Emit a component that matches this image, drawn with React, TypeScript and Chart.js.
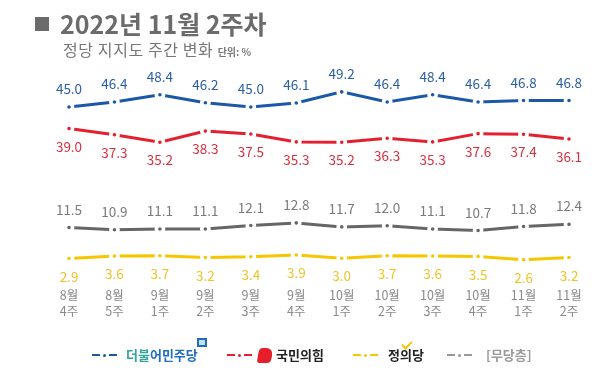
import React, { useEffect, useRef } from "react";
import { Chart, registerables } from "chart.js";

Chart.register(...registerables);

const weeks: string[][] = [
  ["8월", "4주"], ["8월", "5주"], ["9월", "1주"], ["9월", "2주"], ["9월", "3주"], ["9월", "4주"],
  ["10월", "1주"], ["10월", "2주"], ["10월", "3주"], ["10월", "4주"], ["11월", "1주"], ["11월", "2주"],
];
const democratic = [45.0, 46.4, 48.4, 46.2, 45.0, 46.1, 49.2, 46.4, 48.4, 46.4, 46.8, 46.8];
const peoplePower = [39.0, 37.3, 35.2, 38.3, 37.5, 35.3, 35.2, 36.3, 35.3, 37.6, 37.4, 36.1];
const independent = [11.5, 10.9, 11.1, 11.1, 12.1, 12.8, 11.7, 12.0, 11.1, 10.7, 11.8, 12.4];
const justice = [2.9, 3.6, 3.7, 3.2, 3.4, 3.9, 3.0, 3.7, 3.6, 3.5, 2.6, 3.2];

const FONT = "'Noto Sans CJK KR', 'Noto Sans', sans-serif";

const labelPlugin = {
  id: "valueLabels",
  afterDatasetsDraw(chart: any) {
    const ctx = chart.ctx;
    chart.data.datasets.forEach((ds: any, i: number) => {
      const meta = chart.getDatasetMeta(i);
      ctx.save();
      ctx.font = `13.5px ${FONT}`;
      ctx.fillStyle = ds.labelColor;
      ctx.textAlign = "center";
      ctx.textBaseline = "middle";
      meta.data.forEach((pt: any, j: number) => {
        const v = ds.data[j];
        const dy = ds.labelPos === "above" ? -18 : 18;
        ctx.fillText(v.toFixed(1), pt.x, pt.y + dy);
      });
      ctx.restore();
    });
  },
};

function mkDataset(label: string, data: number[], color: string, labelColor: string, labelPos: string) {
  return {
    label,
    data,
    borderColor: color,
    backgroundColor: color,
    borderWidth: 3,
    pointRadius: 3.6,
    pointBorderWidth: 3.6,
    pointBorderColor: "#ffffff",
    pointBackgroundColor: color,
    tension: 0,
    fill: false,
    labelColor,
    labelPos,
  } as any;
}

function LegendDash({ color }: { color: string }) {
  return (
    <span style={{ display: "inline-flex", alignItems: "center", gap: 3 }}>
      <span style={{ width: 8, height: 2.5, background: color, display: "inline-block" }} />
      <span style={{ width: 3, height: 3, borderRadius: 2, background: color, display: "inline-block" }} />
      <span style={{ width: 8, height: 2.5, background: color, display: "inline-block" }} />
    </span>
  );
}

export default function App() {
  const ref = useRef<HTMLCanvasElement | null>(null);
  useEffect(() => {
    if (!ref.current) return;
    const chart = new Chart(ref.current, {
      type: "line",
      data: {
        labels: weeks,
        datasets: [
          mkDataset("더불어민주당", democratic, "#1b58a8", "#2b5fa3", "above"),
          mkDataset("국민의힘", peoplePower, "#e4202f", "#d8313f", "below"),
          mkDataset("[무당층]", independent, "#666666", "#7a7a7a", "above"),
          mkDataset("정의당", justice, "#f6c700", "#eec42a", "below"),
        ],
      },
      options: {
        animation: false,
        responsive: false,
        devicePixelRatio: 1,
        layout: { padding: { left: 69, right: 31, top: 71, bottom: 35 } },
        plugins: { legend: { display: false }, tooltip: { enabled: false }, title: { display: false } },
        scales: {
          x: {
            offset: false,
            grid: { display: false, drawTicks: false },
            border: { display: false },
            ticks: {
              padding: 18,
              color: "#8a8a8a",
              maxRotation: 0,
              autoSkip: false,
              font: { family: FONT, size: 12.5, lineHeight: 1.28 },
            },
          },
          y: { display: false, min: 0, max: 55 },
        },
      },
      plugins: [labelPlugin],
    });
    return () => chart.destroy();
  }, []);

  const legendText: React.CSSProperties = { fontFamily: FONT, fontWeight: 700, fontSize: 13, lineHeight: "16px" };

  return (
    <div style={{ position: "absolute", left: 0, top: 0, width: 600, height: 372, background: "#fff", overflow: "hidden" }}>
      <canvas ref={ref} width={600} height={372} style={{ position: "absolute", left: 0, top: 0, width: 600, height: 372 }} />
      <div style={{ position: "absolute", left: 35, top: 17, width: 14, height: 14, background: "#6b6b6b" }} />
      <div style={{ position: "absolute", left: 60, top: 6, fontFamily: FONT, fontWeight: 700, fontSize: 25, lineHeight: "34px", color: "#6b6b6b", whiteSpace: "nowrap" }}>
        2022년 11월 2주차
      </div>
      <div style={{ position: "absolute", left: 63, top: 38, fontFamily: FONT, fontSize: 16, letterSpacing: 0.6, lineHeight: "22px", color: "#777", whiteSpace: "nowrap" }}>
        정당 지지도 주간 변화 <span style={{ fontSize: 10, fontWeight: 700, letterSpacing: 0 }}>단위: %</span>
      </div>

      <div style={{ position: "absolute", left: 92, top: 347, display: "flex", alignItems: "center", gap: 9 }}>
        <LegendDash color="#1b58a8" />
        <span style={{ ...legendText, position: "relative" }}>
          <span style={{ color: "#34a39b" }}>더불</span>
          <span style={{ color: "#1f6cc2" }}>어민주당</span>
          <span style={{ position: "absolute", right: -9, top: -9, width: 10, height: 9, background: "#1f6cc2", display: "inline-block" }}>
            <span style={{ position: "absolute", left: 2, top: 2, width: 6, height: 5, background: "#bfe3f3" }} />
          </span>
        </span>
      </div>

      <div style={{ position: "absolute", left: 227, top: 347, display: "flex", alignItems: "center", gap: 4 }}>
        <LegendDash color="#e4202f" />
        <span style={{ display: "inline-block", width: 14, height: 15, background: "#e61e2b", borderRadius: "4px 7px 4px 3px", transform: "skewX(-10deg)", marginLeft: 2 }} />
        <span style={{ ...legendText, color: "#222" }}>국민의힘</span>
      </div>

      <div style={{ position: "absolute", left: 353, top: 347, display: "flex", alignItems: "center", gap: 10 }}>
        <LegendDash color="#f6c700" />
        <span style={{ ...legendText, color: "#222", position: "relative" }}>
          정의당
          <span style={{ position: "absolute", left: 14, top: -6, width: 8, height: 4, borderLeft: "2px solid #f6c700", borderBottom: "2px solid #f6c700", transform: "rotate(-45deg)" }} />
        </span>
      </div>

      <div style={{ position: "absolute", left: 447, top: 347, display: "flex", alignItems: "center", gap: 14 }}>
        <LegendDash color="#999" />
        <span style={{ ...legendText, color: "#9a9a9a" }}>[무당층]</span>
      </div>
    </div>
  );
}
